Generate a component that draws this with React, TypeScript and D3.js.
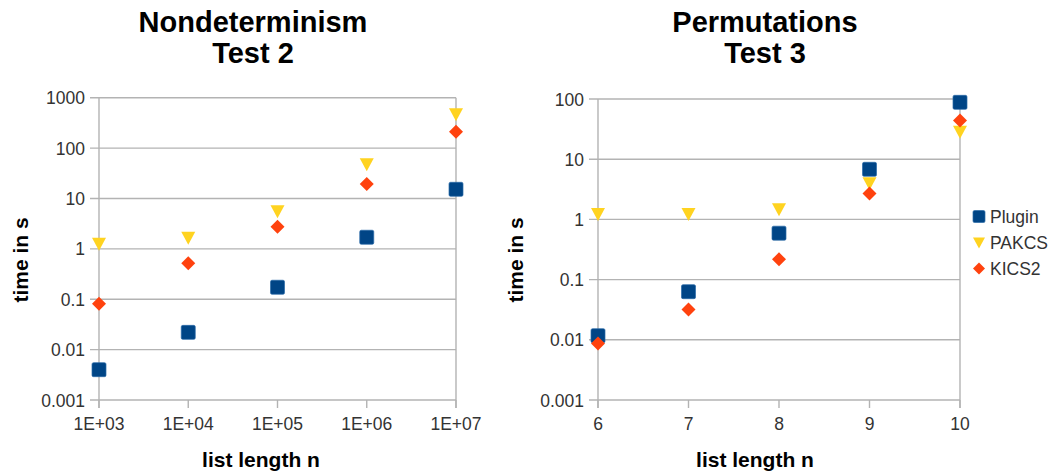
import React from "react";
import * as d3 from "d3";

const leftX = [1e3, 1e4, 1e5, 1e6, 1e7];
const leftXLabels = ["1E+03", "1E+04", "1E+05", "1E+06", "1E+07"];
const leftPlugin = [0.004, 0.022, 0.173, 1.7, 15.2];
const leftPAKCS = [1.26, 1.66, 5.6, 48, 470];
const leftKICS2 = [0.081, 0.52, 2.75, 19.4, 211];
const leftYTicks = [0.001, 0.01, 0.1, 1, 10, 100, 1000];

const rightX = [6, 7, 8, 9, 10];
const rightXLabels = ["6", "7", "8", "9", "10"];
const rightPlugin = [0.0117, 0.063, 0.59, 6.8, 88];
const rightPAKCS = [1.23, 1.23, 1.47, 3.98, 28.6];
const rightKICS2 = [0.0087, 0.032, 0.217, 2.7, 44];
const rightYTicks = [0.001, 0.01, 0.1, 1, 10, 100];

const seriesNames = ["Plugin", "PAKCS", "KICS2"];
const colors = ["#004586", "#ffd320", "#ff420e"];
const FONT = "'Liberation Sans', Arial, sans-serif";

function Marker({ kind, x, y, color, s = 7 }: { kind: number; x: number; y: number; color: string; s?: number }) {
  if (kind === 0) {
    return <rect x={x - s} y={y - s} width={2 * s} height={2 * s} fill={color} stroke="#2a6aa8" strokeWidth={0.7} rx={1.5} />;
  }
  if (kind === 1) {
    return <path d={`M${x - s},${y - s + 1} L${x + s},${y - s + 1} L${x},${y + s} Z`} fill={color} />;
  }
  return <path d={`M${x},${y - s} L${x + s},${y} L${x},${y + s} L${x - s},${y} Z`} fill={color} />;
}

function Panel({
  title1, title2, cx, x0, x1, yTop, yBot, xScale, xVals, xLabels, yTicks, series, yTitleX, xTitleX,
}: any) {
  const y = d3.scaleLog().domain([yTicks[0], yTicks[yTicks.length - 1]]).range([yBot, yTop]);
  return (
    <g>
      <text x={cx} y={32} textAnchor="middle" fontFamily={FONT} fontWeight="bold" fontSize={29} fill="#000">{title1}</text>
      <text x={cx} y={63} textAnchor="middle" fontFamily={FONT} fontWeight="bold" fontSize={29} fill="#000">{title2}</text>
      {yTicks.map((t: number, i: number) => (
        <g key={i}>
          <line x1={x0 - 9} x2={x1} y1={y(t)} y2={y(t)} stroke="#b3b3b3" strokeWidth={1.4} />
          <text x={x0 - 14} y={y(t) + 6.5} textAnchor="end" fontFamily={FONT} fontSize={17.5} fill="#333">{String(t)}</text>
        </g>
      ))}
      <line x1={x0} x2={x0} y1={yTop} y2={yBot + 8} stroke="#b3b3b3" strokeWidth={1.4} />
      <line x1={x1} x2={x1} y1={yTop} y2={yBot + 8} stroke="#b3b3b3" strokeWidth={1.4} />
      {xVals.map((v: number, i: number) => (
        <g key={i}>
          <line x1={xScale(v)} x2={xScale(v)} y1={yBot} y2={yBot + 8} stroke="#b3b3b3" strokeWidth={1.4} />
          <text x={xScale(v)} y={yBot + 30} textAnchor="middle" fontFamily={FONT} fontSize={17.5} fill="#333">{xLabels[i]}</text>
        </g>
      ))}
      {series.map((s: number[], si: number) => (
        <g key={si}>
          {s.map((v: number, i: number) => (
            <Marker key={i} kind={si} x={xScale(xVals[i])} y={y(v)} color={colors[si]} />
          ))}
        </g>
      ))}
      <text transform={`translate(${yTitleX},260) rotate(-90)`} textAnchor="middle" fontFamily={FONT} fontWeight="bold" fontSize={21} fill="#000">time in s</text>
      <text x={xTitleX} y={467} textAnchor="middle" fontFamily={FONT} fontWeight="bold" fontSize={21} fill="#000">list length n</text>
    </g>
  );
}

export default function App() {
  const lx = d3.scaleLog().domain([1e3, 1e7]).range([99, 456]);
  const rx = d3.scaleLinear().domain([6, 10]).range([598, 960]);
  return (
    <svg width={1056} height={475} style={{ position: "absolute", left: 0, top: 0, background: "#fff" }}>
      <rect width={1056} height={475} fill="#fff" />
      <Panel title1="Nondeterminism" title2="Test 2" cx={253} x0={99} x1={456} yTop={97.7} yBot={400}
        xScale={lx} xVals={leftX} xLabels={leftXLabels} yTicks={leftYTicks}
        series={[leftPlugin, leftPAKCS, leftKICS2]} yTitleX={28} xTitleX={261} />
      <Panel title1="Permutations" title2="Test 3" cx={765} x0={598} x1={960} yTop={99} yBot={400}
        xScale={rx} xVals={rightX} xLabels={rightXLabels} yTicks={rightYTicks}
        series={[rightPlugin, rightPAKCS, rightKICS2]} yTitleX={523} xTitleX={755} />
      {seriesNames.map((n, i) => (
        <g key={i}>
          <Marker kind={i} x={979} y={216.5 + i * 26} color={colors[i]} s={6} />
          <text x={990} y={222.5 + i * 26} fontFamily={FONT} fontSize={17.5} fill="#333">{n}</text>
        </g>
      ))}
    </svg>
  );
}
